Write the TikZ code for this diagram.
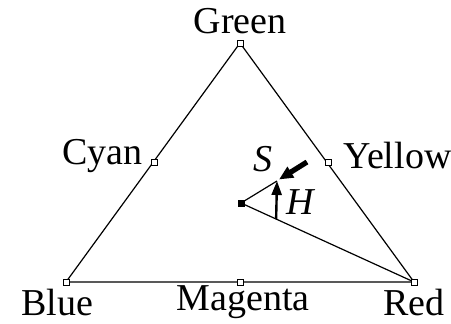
\documentclass[tikz,border=0pt]{standalone}
\usepackage{fontspec}
\setmainfont{Liberation Serif}
\usetikzlibrary{positioning,calc,arrows.meta}

\begin{document}
\begin{tikzpicture}[x=0.5pt, y=0.5pt, every node/.style={font=\fontsize{19}{21}\selectfont}]
\tikzstyle{corner}=[draw, fill=white, rectangle, inner sep=0pt, minimum size=3pt, line width=0.5pt]
\tikzstyle{lbl}=[inner sep=1pt]
\useasboundingbox (0,0) rectangle (451,323);
% hexcone cut: primaries and secondaries
\coordinate (green) at (240,280);
\coordinate (blue) at (66,41);
\coordinate (red) at (414,41);
\coordinate (magenta) at (240,41);
\coordinate (cyan) at (154,161);
\coordinate (yellow) at (328,161);
\coordinate (ctr) at (241,120);
\coordinate (tip) at (277,142);
\coordinate (hfoot) at ($(ctr)!0.203!(red)$);
\coordinate (sstart) at (307,161);
\coordinate (send) at (279,143.5);
\draw[line width=0.6pt] (green)--(blue)--(red)--cycle;
\draw[line width=0.6pt] (tip)--(ctr)--(red);
\draw[-{Triangle[length=7pt,width=5pt]}, line width=1.2pt] (hfoot)--(tip);
\draw[-{Triangle[length=7pt,width=6pt]}, line width=2.6pt] (sstart)--(send);
\node[corner] (g) at (green) {};
\node[corner] (b) at (blue) {};
\node[corner] (r) at (red) {};
\node[corner] (m) at (magenta) {};
\node[corner] (c) at (cyan) {};
\node[corner] (y) at (yellow) {};
\node[fill, rectangle, inner sep=0pt, minimum size=3.5pt] (o) at (ctr) {};
\node[lbl] (gl) at (240,302) {Green};
\node[lbl, anchor=east] (cl) at (145,167) {Cyan};
\node[lbl, anchor=west] (yl) at (341,167) {Yellow};
\node[lbl] (bl) at (57,21) {Blue};
\node[lbl] (ml) at (243,21) {Magenta};
\node[lbl] (rl) at (414,21) {Red};
\node[lbl] (sl) at (263,164) {\itshape S};
\node[lbl] (hl) at (300,121) {\itshape H};
\end{tikzpicture}
\end{document}
